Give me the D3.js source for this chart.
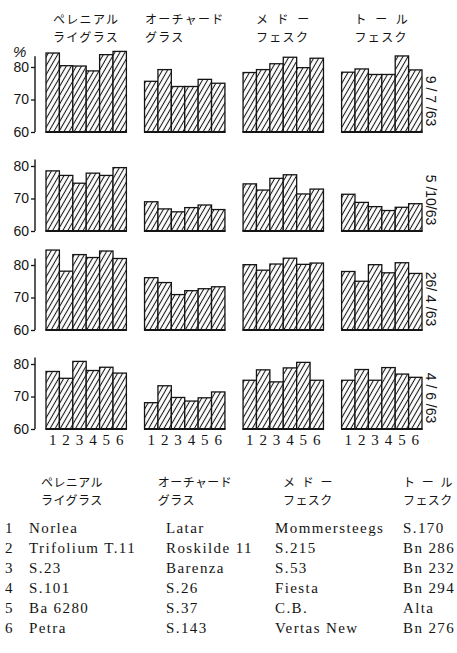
<!DOCTYPE html>
<html>
<head>
<meta charset="utf-8">
<script src="https://cdn.jsdelivr.net/npm/d3@7"></script>
<style>
  body { margin: 0; background: #fff; }
  svg { display: block; }
</style>
</head>
<body>
<script>
// Sampling dates (one row of panels each)
const dates = ["9 / 7 /63", "5 /10/63", "26/ 4 /63", "4 / 6 /63"];

// Grass species (two-line headings)
const grassNames = [
  ["ペレニアル", "ライグラス"],
  ["オーチャード", "グラス"],
  ["メ\u2002ド\u2002ー", "フェスク"],
  ["ト\u2002ー\u2002ル", "フェスク"]
];

// Variety numbers 1-6 within each species
const varietyNumbers = [1, 2, 3, 4, 5, 6];

// Digestibility (%) per date: [species][variety]
const digestJul9 = [
  [84.3, 80.4, 80.3, 78.8, 83.8, 84.8],
  [75.6, 79.2, 74.0, 74.0, 76.2, 75.0],
  [78.3, 79.2, 81.0, 83.0, 79.8, 82.7],
  [78.4, 79.4, 77.7, 77.7, 83.4, 79.1]
];
const digestOct5 = [
  [78.5, 77.1, 74.7, 77.8, 77.1, 79.5],
  [69.0, 66.8, 65.9, 67.2, 68.0, 66.6],
  [74.5, 72.6, 76.2, 77.3, 71.4, 72.9],
  [71.3, 68.8, 67.5, 66.3, 67.3, 68.4]
];
const digestApr26 = [
  [84.6, 78.1, 83.2, 82.3, 84.3, 82.0],
  [76.1, 74.6, 70.9, 72.1, 72.7, 73.3],
  [80.1, 78.4, 80.3, 82.1, 80.2, 80.6],
  [78.0, 75.0, 80.1, 77.6, 80.7, 77.4]
];
const digestJun4 = [
  [77.7, 75.6, 80.8, 78.0, 79.0, 77.2],
  [68.1, 73.3, 69.7, 68.6, 69.6, 71.4],
  [75.0, 78.2, 74.5, 78.8, 80.5, 75.0],
  [75.0, 78.3, 75.0, 78.9, 76.9, 75.9]
];
const panelValues = [digestJul9, digestOct5, digestApr26, digestJun4];

// Y axis tick values
const yTicks = [60, 70, 80];

// Variety key
const ryegrassVarieties = ["Norlea", "Trifolium T.11", "S.23", "S.101", "Ba 6280", "Petra"];
const cocksfootVarieties = ["Latar", "Roskilde 11", "Barenza", "S.26", "S.37", "S.143"];
const meadowFescueVarieties = ["Mommersteegs", "S.215", "S.53", "Fiesta", "C.B.", "Vertas New"];
const tallFescueVarieties = ["S.170", "Bn 286", "Bn 232", "Bn 294", "Alta", "Bn 276"];
const varietyColumns = [ryegrassVarieties, cocksfootVarieties, meadowFescueVarieties, tallFescueVarieties];

const W = 457, H = 653;
const INK = "#141414";
const SANS = "'Liberation Sans', Arial, sans-serif";
const SERIF = "'Liberation Serif', 'Times New Roman', serif";
const CJK = "'Noto Sans CJK JP', sans-serif";

const svg = d3.select("body").append("svg")
  .attr("width", W).attr("height", H)
  .attr("viewBox", `0 0 ${W} ${H}`);

// Diagonal hatch used to fill every bar
const hatch = svg.append("defs").append("pattern")
  .attr("id", "hatch")
  .attr("patternUnits", "userSpaceOnUse")
  .attr("width", 4.4).attr("height", 10)
  .attr("patternTransform", "rotate(30)");
hatch.append("rect").attr("width", 4.4).attr("height", 10).attr("fill", "#fff");
hatch.append("line")
  .attr("x1", 2.2).attr("x2", 2.2).attr("y1", -1).attr("y2", 11)
  .attr("stroke", INK).attr("stroke-width", 1.05);

// Horizontal layout: species groups, then varieties inside each group
const groupX = d3.scaleBand()
  .domain(d3.range(grassNames.length))
  .range([46, 422])
  .paddingInner(0.184);
const barX = d3.scaleBand()
  .domain(varietyNumbers)
  .range([0, groupX.bandwidth()])
  .padding(0);

// Vertical layout: one row per sampling date
const firstBase = 132, rowStep = 99, unitSpan = 65;
const axisX = 35;

dates.forEach((date, r) => {
  const base = firstBase + r * rowStep;
  const y = d3.scaleLinear().domain([60, 80]).range([base, base - unitSpan]);
  const row = svg.append("g").attr("class", "row");

  // left axis
  const axis = d3.axisLeft(y).tickValues(yTicks).tickSize(4).tickPadding(2);
  const ax = row.append("g").attr("transform", `translate(${axisX},0)`).call(axis);
  ax.select(".domain").remove();
  ax.append("line")
    .attr("x1", 0).attr("x2", 0)
    .attr("y1", y(60)).attr("y2", y(r === 0 ? 83.3 : 82))
    .attr("stroke", INK).attr("stroke-width", 1.4);
  ax.selectAll(".tick line").attr("stroke", INK).attr("stroke-width", 1.3);
  ax.selectAll(".tick text")
    .attr("fill", INK)
    .style("font-family", SANS).style("font-size", "14px");

  if (r === 0) {
    row.append("text")
      .attr("x", 13).attr("y", 57)
      .attr("fill", INK)
      .style("font-family", SANS).style("font-size", "15px").style("font-style", "italic")
      .text("%");
  }

  // bars of every species
  panelValues[r].forEach((vals, g) => {
    const gg = row.append("g").attr("transform", `translate(${groupX(g)},0)`);
    gg.selectAll("rect")
      .data(vals)
      .join("rect")
      .attr("x", (d, i) => barX(varietyNumbers[i]))
      .attr("width", barX.bandwidth())
      .attr("y", d => y(d))
      .attr("height", d => y(60) - y(d))
      .attr("fill", "url(#hatch)")
      .attr("stroke", INK)
      .attr("stroke-width", 1.3);
    gg.append("line")
      .attr("x1", -0.5).attr("x2", groupX.bandwidth() + 0.5)
      .attr("y1", y(60)).attr("y2", y(60))
      .attr("stroke", INK).attr("stroke-width", 2.2);

    // variety numbers under the bottom row
    if (r === dates.length - 1) {
      gg.selectAll("text.num")
        .data(varietyNumbers)
        .join("text")
        .attr("class", "num")
        .attr("x", d => barX(d) + barX.bandwidth() / 2)
        .attr("y", base + 16)
        .attr("text-anchor", "middle")
        .attr("fill", INK)
        .style("font-family", SERIF).style("font-size", "15px")
        .text(d => d);
    }
  });

  // date label, rotated, at the right edge
  row.append("text")
    .attr("transform", `translate(426,${base - 31}) rotate(90)`)
    .attr("text-anchor", "middle")
    .attr("fill", INK)
    .style("font-family", SANS).style("font-size", "14px")
    .text(date);
});

// species headings: first line centred, second line aligned to its left edge
function heading(sel, lines, cx, y0, size, spacing, lineGap) {
  const t1 = sel.append("text")
    .attr("x", cx).attr("y", y0)
    .attr("text-anchor", "middle")
    .attr("fill", INK)
    .style("font-family", CJK).style("font-size", size + "px")
    .style("letter-spacing", spacing + "px")
    .text(lines[0]);
  const left = t1.node().getBBox().x;
  sel.append("text")
    .attr("x", left).attr("y", y0 + lineGap)
    .attr("fill", INK)
    .style("font-family", CJK).style("font-size", size + "px")
    .style("letter-spacing", spacing + "px")
    .text(lines[1]);
}
const headGroup = svg.append("g");
grassNames.forEach((lines, g) => {
  heading(headGroup, lines, groupX(g) + groupX.bandwidth() / 2, 24, 12, 1.3, 17.6);
});

// variety key
const keyColX = [29, 166, 275, 403];
const keyHeadCX = [72, 195, 308, 428];
const key = svg.append("g");
grassNames.forEach((lines, g) => heading(key, lines, keyHeadCX[g], 487, 12, 0.4, 18));

varietyNumbers.forEach((n, i) => {
  const yy = 533 + i * 20;
  key.append("text")
    .attr("x", 5).attr("y", yy)
    .attr("fill", INK)
    .style("font-family", SERIF).style("font-size", "15px")
    .text(n);
  varietyColumns.forEach((col, c) => {
    key.append("text")
      .attr("x", keyColX[c]).attr("y", yy)
      .attr("fill", INK)
      .style("font-family", SERIF).style("font-size", "15px")
      .style("letter-spacing", "1.4px")
      .text(col[i]);
  });
});
</script>
</body>
</html>
